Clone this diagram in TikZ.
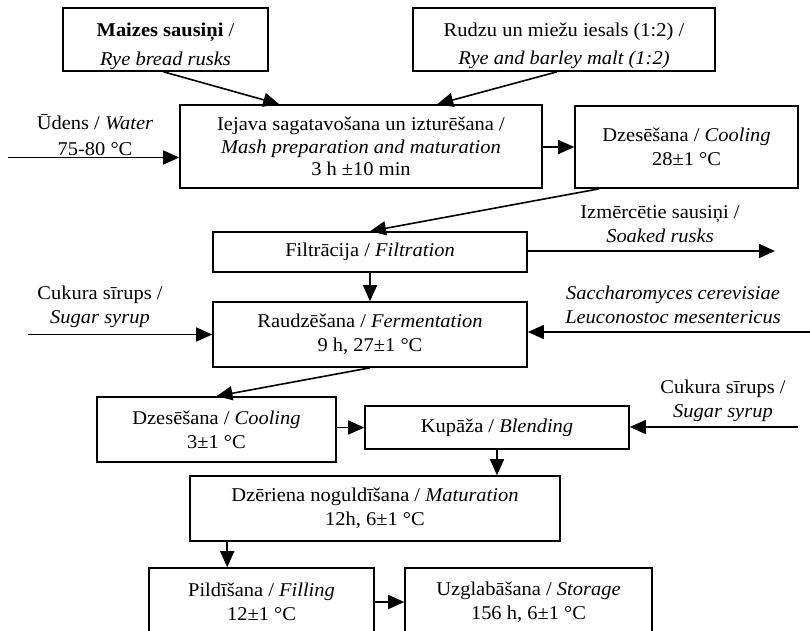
\documentclass[tikz,border=0pt]{standalone}
\usepackage{fontspec}
\setmainfont[FakeStretch=1.05]{Liberation Serif}
\usetikzlibrary{arrows.meta}
\newcommand{\myfs}{\fontsize{19.5}{24}\selectfont}
\begin{document}
\begin{tikzpicture}[x=1pt,y=-1pt,
 box/.style={draw,line width=1.6pt,align=center,inner sep=0pt,font=\myfs},
 lbl/.style={align=center,inner sep=0pt,font=\myfs},
 arr/.style={line width=1.6pt,-{Triangle[length=16pt,width=14pt]}}]
\clip (0,0) rectangle (810,630);
% boxes
\node[box,minimum width=205pt,minimum height=63pt] (rusk) at (165.5,39.5) {};
\node[lbl,font=\fontsize{19.5}{29}\selectfont] (ruskT) at (165.5,46.5) {\textbf{Maizes sausiņi} /\\\textit{Rye bread rusks}};
\node[box,minimum width=302pt,minimum height=63pt] (malt) at (564,39.5) {};
\node[lbl,font=\fontsize{19.5}{28}\selectfont] (maltT) at (564,45.5) {Rudzu un miežu iesals (1:2) /\\\textit{Rye and barley malt (1:2)}};
\node[box,minimum width=362pt,minimum height=83pt,font=\fontsize{19.5}{22.5}\selectfont] (mash) at (361,146.5) {Iejava sagatavošana un izturēšana /\\\textit{Mash preparation and maturation}\\3 h ±10 min};
\node[box,minimum width=223pt,minimum height=82pt] (cool1) at (686.5,147) {Dzesēšana / \textit{Cooling}\\28±1 °C};
\node[box,minimum width=314pt,minimum height=40pt] (filt) at (370,252) {Filtrācija / \textit{Filtration}};
\node[box,minimum width=314pt,minimum height=65pt] (ferm) at (370,334.5) {Raudzēšana / \textit{Fermentation}\\9 h, 27±1 °C};
\node[box,minimum width=239pt,minimum height=65pt] (cool2) at (216.5,429.5) {Dzesēšana / \textit{Cooling}\\3±1 °C};
\node[box,minimum width=264pt,minimum height=43pt] (blend) at (497,427.5) {Kupāža / \textit{Blending}};
\node[box,minimum width=370pt,minimum height=65pt] (mat) at (375,508.5) {Dzēriena noguldīšana / \textit{Maturation}\\12h, 6±1 °C};
\node[box,minimum width=225pt,minimum height=68pt] (fill) at (261.5,602) {Pildīšana / \textit{Filling}\\12±1 °C};
\node[box,minimum width=247pt,minimum height=68pt] (stor) at (528.5,602) {Uzglabāšana / \textit{Storage}\\156 h, 6±1 °C};
% free labels
\node[lbl,font=\fontsize{19.5}{25.5}\selectfont] (water) at (95,135) {Ūdens / \textit{Water}\\75-80 °C};
\node[lbl] (soak) at (660,224) {Izmērcētie sausiņi /\\\textit{Soaked rusks}};
\node[lbl] (syr1) at (100,307) {Cukura sīrups /\\\textit{Sugar syrup}};
\node[lbl] (yeast) at (673,305) {\textit{Saccharomyces cerevisiae}\\\textit{Leuconostoc mesentericus}};
\node[lbl] (syr2) at (723,400.5) {Cukura sīrups /\\\textit{Sugar syrup}};
% free ends
\coordinate (wIn) at (8,157.5);
\coordinate (soakOut) at (775,251);
\coordinate (s1In) at (28,334.5);
\coordinate (yIn) at (812,332);
\coordinate (s2In) at (798,427);
% connectors
\draw[arr] ([xshift=-2pt]rusk.south) -- ([xshift=100pt]mash.north west);
\draw[arr] ([xshift=-7pt]malt.south) -- ([xshift=258pt]mash.north west);
\draw[arr] (wIn) -- (wIn -| mash.west);
\draw[arr] (mash.east |- cool1.west) -- (cool1.west);
\draw[arr] ([xshift=25pt]cool1.south west) -- (filt.north);
\draw[arr] (filt.east |- soakOut) -- (soakOut);
\draw[arr] (filt.south) -- (ferm.north);
\draw[arr] (s1In) -- (ferm.west);
\draw[arr] (yIn) -- (yIn -| ferm.east);
\draw[arr] (ferm.south) -- (cool2.north);
\draw[arr] (cool2.east |- blend.west) -- (blend.west);
\draw[arr] (s2In) -- (s2In -| blend.east);
\draw[arr] (blend.south) -- (blend.south |- mat.north);
\draw[arr] ([xshift=38pt]mat.south west) -- ([xshift=38pt]mat.south west |- fill.north);
\draw[arr] (fill.east) -- (stor.west);
\end{tikzpicture}
\end{document}
